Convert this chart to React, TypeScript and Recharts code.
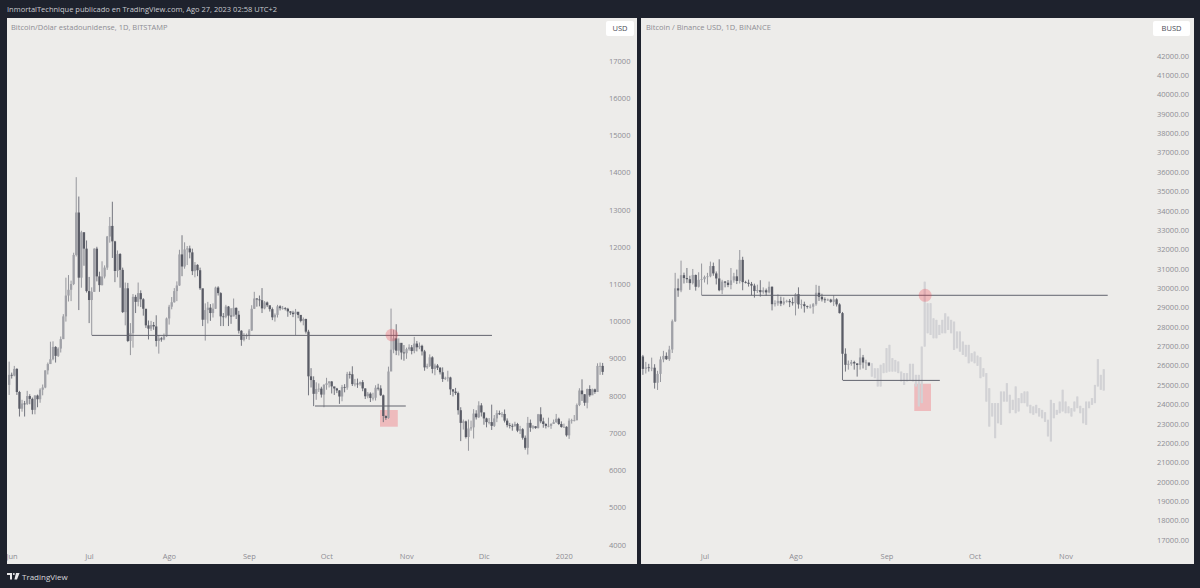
import { Bar, ComposedChart, ReferenceArea, ReferenceDot, ReferenceLine, XAxis, YAxis } from 'recharts'

const BG = '#1e222d'
const PANEL = '#edecea'
const TEXT = '#8d8d94'
const UP = '#a0a1a7'
const UP_WICK = '#96979d'
const DOWN = '#5a5c66'
const GHOST = '#d2d2d5'
const LINE = '#62646e'
const MARK = 'rgba(242, 54, 69, 0.27)'
const FONT = '"Open Sans", sans-serif'

// left chart, daily from May 31 2019 (index -1), Jun 1 is index 0
const btcFirstOpen = 8300
const btcClose = [
  8570,
  8550, 8730, 8110, 7660, 7800, 7790, 8000, 7925, 7630, 8015, 7915, 8170, 8230, 8690, 8860, 8990, 9320, 9080, 9275, 9530, 10140, 10700, 10855, 11010, 11790, 12930, 11180, 12400, 11960, 10820,
  10580, 10800, 11960, 11215, 10980, 11210, 11450, 12285, 12570, 12155, 11360, 11815, 11390, 10255, 10895, 9480, 9690, 10665, 10530, 10765, 10600, 10345, 9900, 9810, 9910, 9870, 9480, 9550, 9520, 9605, 10085,
  10400, 10520, 10820, 10970, 11805, 11480, 11940, 11965, 11860, 11355, 11525, 11380, 10895, 10050, 10310, 10375, 10230, 10345, 10915, 10765, 10140, 10130, 10405, 10160, 10140, 10370, 10185, 9755, 9510, 9600, 9630,
  9760, 10345, 10620, 10595, 10575, 10355, 10515, 10440, 10335, 10115, 10180, 10410, 10360, 10360, 10345, 10275, 10240, 10200, 10265, 10180, 10020, 10070, 9730, 8530, 8430, 8060, 8190, 8200, 8040, 8300,
  8343, 8393, 8260, 8205, 8151, 7988, 8245, 8228, 8595, 8586, 8321, 8336, 8321, 8374, 8205, 7994, 8065, 7950, 7955, 8223, 8205, 8020, 7465, 7412, 8660, 9245, 9550, 9220, 9430, 9170, 9150,
  9260, 9310, 9210, 9410, 9310, 9350, 9200, 8770, 8810, 9040, 8730, 8820, 8760, 8640, 8460, 8480, 8500, 8180, 8120, 8080, 7620, 7280, 7320, 6900, 7130, 7160, 7530, 7430, 7750, 7560,
  7400, 7300, 7300, 7200, 7400, 7540, 7510, 7520, 7340, 7220, 7200, 7190, 7250, 7070, 7110, 6880, 6610, 7280, 7150, 7190, 7140, 7510, 7320, 7250, 7200, 7200, 7250, 7300, 7390, 7250, 7170,
  7175, 6945, 7340, 7350, 7350, 7760, 8150, 8050, 7820, 8190, 8020, 8180, 8110, 8810, 8810, 8650,
]
const btcHigh = [
  8925,
  8630, 8810, 8750, 8140, 7900, 7870, 8140, 8050, 7960, 8020, 8040, 8210, 8310, 8690, 8900, 9460, 9470, 9340, 9310, 9600, 10200, 11180, 11250, 11100, 11850, 13880, 13360, 12440, 12400, 12180,
  11200, 10920, 11970, 12010, 11340, 11620, 11510, 12300, 12810, 13220, 12170, 11910, 11840, 11450, 11050, 11040, 9960, 10740, 10720, 11050, 10840, 10630, 10340, 10030, 10020, 9990, 10170, 9630, 9590, 9680, 10110,
  10450, 10660, 10900, 11080, 11930, 12320, 12130, 12030, 12040, 11960, 11600, 11540, 11450, 10870, 10490, 10530, 10470, 10490, 10940, 10950, 10790, 10230, 10450, 10420, 10360, 10620, 10380, 10290, 9770, 9690, 9680,
  9800, 10440, 10800, 10630, 10700, 10900, 10550, 10540, 10410, 10380, 10220, 10450, 10440, 10420, 10390, 10370, 10280, 10290, 10340, 10240, 10080, 10110, 10080, 9780, 8750, 8530, 8370, 8340, 8250, 8320,
  8490, 8400, 8400, 8230, 8220, 8160, 8300, 8320, 8650, 8660, 8800, 8460, 8470, 8390, 8430, 8210, 8110, 8100, 8090, 8290, 8330, 8290, 8040, 7480, 8790, 10350, 9780, 9930, 9550, 9370, 9370,
  9300, 9390, 9370, 9590, 9480, 9440, 9380, 9240, 8870, 9120, 9070, 8870, 8860, 8780, 8770, 8520, 8680, 8520, 8190, 8220, 8120, 7700, 7370, 7340, 7370, 7340, 7650, 7620, 7860, 7810,
  7560, 7420, 7410, 7770, 7490, 7620, 7610, 7570, 7640, 7400, 7280, 7260, 7310, 7280, 7200, 7140, 6940, 7440, 7370, 7220, 7190, 7520, 7700, 7420, 7270, 7420, 7270, 7370, 7520, 7420, 7320,
  7260, 7190, 7400, 7390, 7490, 7800, 8210, 8450, 8050, 8200, 8290, 8200, 8200, 8880, 8900, 8890,
]
const btcLow = [
  8030,
  8470, 8530, 8030, 7450, 7580, 7450, 7760, 7780, 7510, 7510, 7700, 7820, 8020, 8210, 8580, 8860, 8960, 8900, 9050, 9170, 9530, 10000, 10540, 10550, 10980, 11750, 10310, 10910, 11500, 10780,
  9960, 9630, 10800, 11080, 10800, 10970, 11160, 11390, 12120, 11710, 11060, 11190, 10910, 10230, 9900, 9450, 9100, 9300, 10230, 10410, 10390, 10160, 9830, 9520, 9750, 9780, 9330, 9140, 9460, 9500, 9590,
  9920, 10330, 10510, 10550, 10960, 11220, 11420, 11520, 11700, 11250, 11190, 11220, 10850, 9880, 9490, 9950, 10020, 10110, 10340, 10700, 9880, 9880, 10090, 9880, 9940, 10140, 10070, 9680, 9350, 9470, 9530,
  9510, 9750, 10340, 10400, 10410, 10230, 10330, 10390, 10270, 10040, 10000, 10110, 10300, 10320, 10300, 10130, 10180, 10120, 9640, 10090, 9980, 9900, 9680, 8020, 8230, 7730, 7900, 8110, 7960, 7700,
  8170, 8230, 8070, 8030, 8080, 7790, 7860, 8100, 8170, 8470, 8270, 8260, 8220, 8280, 8130, 7920, 7940, 7840, 7880, 7880, 8150, 8000, 7300, 7360, 7390, 8950, 9150, 9100, 9090, 8980, 8950,
  9000, 9220, 9120, 9150, 9200, 9260, 9090, 8680, 8730, 8780, 8610, 8560, 8700, 8580, 8380, 8430, 8390, 8030, 7990, 8030, 7500, 6790, 7100, 6860, 6530, 7070, 6860, 7370, 7410, 7450,
  7230, 7160, 7240, 7090, 7170, 7300, 7490, 7430, 7290, 7160, 7130, 7070, 7180, 7030, 6980, 6830, 6560, 6430, 7040, 7110, 7120, 7130, 7270, 7150, 7130, 7160, 7120, 7250, 7280, 7220, 7150,
  7150, 6910, 6850, 7260, 7320, 7350, 7730, 7870, 7740, 7670, 7980, 8040, 8060, 8110, 8570, 8570,
]
const btcTicks = [0, 30, 61, 92, 122, 153, 183, 214]
const btcTickLabels = ['Jun', 'Jul', 'Ago', 'Sep', 'Oct', 'Nov', 'Dic', '2020']
const btcPrices = [4000, 5000, 6000, 7000, 8000, 9000, 10000, 11000, 12000, 13000, 14000, 15000, 16000, 17000]

// right chart, daily from Jun 9 (index 0), solid candles end on Aug 26
const busdFirstOpen = 26500
const busdClose = [
  26480, 25840, 25920, 25900, 25900, 25120, 25580, 26330, 26510, 26340, 26840, 28300, 30000, 29890, 30680, 30530, 30470, 30270, 30690, 30080, 30440, 30470,
  30590, 30620, 31150, 30770, 30510, 29900, 30350, 30290, 30170, 30410, 30620, 30380, 31470, 30320, 30290, 30230, 30140, 29860, 29910, 29800, 29900, 29790, 30080, 29180, 29230, 29350, 29210, 29320, 29350, 29280, 29230,
  29700, 29170, 29180, 29080, 29040, 29050, 29180, 29770, 29560, 29430, 29400, 29420, 29300, 29430, 29170, 28720, 26620, 26050, 26100, 26190, 26120, 26040, 26430, 26170, 26170, 26010,
]
const busdHigh = [
  26780, 26560, 26200, 26100, 26420, 26080, 25740, 26480, 26770, 26690, 27030, 28390, 30800, 30500, 31430, 30810, 31050, 30650, 31000, 30710, 30830, 31280,
  30660, 30800, 31380, 31330, 30870, 31500, 30440, 30380, 30430, 31050, 30800, 30970, 31980, 31630, 30390, 30450, 30330, 30240, 30190, 30420, 30050, 29990, 30350, 30100, 29380, 29690, 29570, 29530, 29410, 29450, 29530,
  29750, 30050, 29420, 29310, 29110, 29170, 29240, 30180, 30130, 29720, 29530, 29470, 29460, 29640, 29490, 29230, 28780, 26900, 26270, 26300, 26260, 26130, 26900, 26560, 26310, 26110,
]
const busdLow = [
  26300, 25530, 25600, 25700, 25720, 24820, 24750, 25160, 26180, 26300, 26250, 26660, 28260, 29560, 29800, 30250, 30280, 29920, 30200, 29880, 30040, 29640,
  30300, 30200, 30570, 30650, 30200, 29850, 29700, 30050, 30060, 29950, 30290, 30220, 30250, 29900, 30250, 30090, 29650, 29520, 29760, 29570, 29720, 29620, 29740, 28860, 29060, 29100, 29080, 29130, 29260, 29030, 29110,
  28600, 28950, 28950, 28750, 28950, 28960, 28690, 29100, 29350, 29320, 29250, 29350, 29250, 29090, 29060, 28700, 25250, 25700, 25800, 26000, 25800, 25440, 25800, 25860, 25780, 25980,
]
// faded projection that follows the solid candles, only the ranges can be read
const ghostHigh = [
  26130, 25870, 25870, 26050, 26130, 26910, 27080, 26390, 26300, 26220, 25700, 25620, 25620, 26100, 26100, 25530, 25530, 26990, 30340,
  29230, 29230, 28450, 28370, 28110, 28370, 28710, 28540, 28370, 28280, 27770, 27770, 27250, 27080, 27080, 26650, 26730, 26520, 26440, 25870,
  25620, 24840, 24070, 24070, 24070, 24670, 24670, 25100, 24500, 24240, 24930, 24330, 24580, 24670, 24670, 23980, 23900, 23980, 23810, 23720,
  23600, 23210, 24240, 24070, 23720, 24150, 24760, 24150, 23900, 23810, 24150, 24410, 23930, 23810, 24150, 24150, 24330, 25010, 26340, 25530, 25820,
]
const ghostLow = [
  25440, 25360, 24930, 24930, 25620, 25650, 25700, 25700, 25700, 25620, 25190, 25010, 25190, 25270, 25190, 24930, 23900, 24070, 26990,
  27680, 27590, 27420, 27420, 27590, 27680, 27680, 27850, 27680, 26820, 26900, 26730, 26560, 26470, 26130, 26220, 26130, 26000, 25360, 25440,
  24150, 22860, 23380, 22260, 23030, 22950, 24150, 24150, 23550, 23720, 23550, 23640, 24070, 24070, 23900, 23550, 23470, 23550, 23380, 23290,
  23100, 22350, 22090, 23290, 23470, 23550, 23640, 23550, 23550, 23380, 23640, 23810, 23550, 23030, 22950, 23810, 23980, 24070, 24930, 24760, 24720,
]
const busdTicks = [22, 53, 84, 114, 145]
const busdTickLabels = ['Jul', 'Ago', 'Sep', 'Oct', 'Nov']
const busdPrices = [
  17000, 18000, 19000, 20000, 21000, 22000, 23000, 24000, 25000, 26000, 27000, 28000, 29000, 30000, 31000, 32000, 33000, 34000, 35000, 36000, 37000, 38000, 39000, 40000, 41000, 42000,
]

const btcData = btcClose.map((close, n) => ({
  day: n - 1,
  open: n === 0 ? btcFirstOpen : btcClose[n - 1],
  close,
  high: btcHigh[n],
  low: btcLow[n],
  range: [btcLow[n], btcHigh[n]],
  ghost: false,
}))

const busdData = [
  ...busdClose.map((close, n) => ({
    day: n,
    open: n === 0 ? busdFirstOpen : busdClose[n - 1],
    close,
    high: busdHigh[n],
    low: busdLow[n],
    range: [busdLow[n], busdHigh[n]],
    ghost: false,
  })),
  ...ghostHigh.map((high, n) => ({
    day: busdClose.length + n,
    open: high,
    close: ghostLow[n],
    high,
    low: ghostLow[n],
    range: [ghostLow[n], high],
    ghost: true,
  })),
]

function Candle(props: any) {
  const { x, y, width, height, payload } = props
  const { open, close, high, low, ghost } = payload
  const cx = x + width / 2
  const perUnit = height / (high - low)
  const top = y + (high - Math.max(open, close)) * perUnit
  const bottom = y + (high - Math.min(open, close)) * perUnit
  const rising = close >= open
  const color = ghost ? GHOST : rising ? UP : DOWN
  const wick = ghost ? GHOST : rising ? UP_WICK : '#74767f'
  const bodyWidth = ghost ? 2.2 : 2.3
  return (
    <g>
      <line x1={cx} x2={cx} y1={y} y2={y + height} stroke={wick} strokeWidth={1} />
      <rect x={cx - bodyWidth / 2} y={top} width={bodyWidth} height={Math.max(bottom - top, 0.8)} fill={color} />
    </g>
  )
}

const tickStyle = { fontSize: 7.5, fill: TEXT, fontFamily: FONT }

function Tag({ left, width, label }: { left: number; width: number; label: string }) {
  return (
    <div
      style={{
        position: 'absolute',
        left,
        top: 21,
        width,
        height: 15,
        background: '#fff',
        borderRadius: 2,
        color: '#4a4c55',
        fontSize: 7.5,
        lineHeight: '15px',
        textAlign: 'center',
        fontFamily: FONT,
      }}
    >
      {label}
    </div>
  )
}

function Title({ left, label }: { left: number; label: string }) {
  return (
    <div style={{ position: 'absolute', left, top: 22, color: TEXT, fontSize: 7.5, lineHeight: '10px', fontFamily: FONT, whiteSpace: 'nowrap' }}>
      {label}
    </div>
  )
}

export default function App() {
  return (
    <div style={{ position: 'absolute', left: 0, top: 0, width: 1200, height: 588, background: BG, overflow: 'hidden' }}>
      <div style={{ position: 'absolute', left: 7, top: 4, color: '#c9cad0', fontSize: 7.5, lineHeight: '11px', fontFamily: FONT, whiteSpace: 'nowrap' }}>
        InmortalTechnique publicado en TradingView.com, Ago 27, 2023 02:58 UTC+2
      </div>

      <div style={{ position: 'absolute', left: 7, top: 18, width: 630, height: 546, background: PANEL }}>
        <ComposedChart width={630} height={546} data={btcData} margin={{ top: 0, right: 0, bottom: 0, left: 0 }} style={{ overflow: 'visible' }}>
          <XAxis
            dataKey="day"
            type="number"
            domain={[-1.94, 229.8]}
            allowDataOverflow
            ticks={btcTicks}
            tickFormatter={(v: number) => btcTickLabels[btcTicks.indexOf(v)]}
            interval={0}
            axisLine={false}
            tickLine={false}
            tick={tickStyle}
            height={16}
            tickSize={0}
            tickMargin={6}
          />
          <YAxis
            orientation="right"
            type="number"
            domain={[3919, 18155]}
            allowDataOverflow
            ticks={btcPrices}
            interval={0}
            axisLine={false}
            tickLine={false}
            tick={{ ...tickStyle, textAnchor: 'start' }}
            width={32}
            tickSize={0}
            tickMargin={4}
          />
          <Bar dataKey="range" barSize={2} shape={<Candle />} isAnimationActive={false} />
          <ReferenceLine segment={[{ x: 31, y: 9630 }, { x: 186, y: 9630 }]} stroke={LINE} strokeWidth={1} />
          <ReferenceLine segment={[{ x: 117.4, y: 7733 }, { x: 152.6, y: 7733 }]} stroke={LINE} strokeWidth={1} />
          <ReferenceArea x1={142.6} x2={149.5} y1={7177} y2={7626} fill={MARK} fillOpacity={1} stroke="none" />
          <ReferenceDot x={147.2} y={9640} r={6.3} fill={MARK} fillOpacity={1} stroke="none" />
        </ComposedChart>
      </div>

      <div style={{ position: 'absolute', left: 641, top: 18, width: 553, height: 546, background: PANEL }}>
        <ComposedChart width={553} height={546} data={busdData} margin={{ top: 0, right: 0, bottom: 0, left: 0 }}>
          <XAxis
            dataKey="day"
            type="number"
            domain={[0.2, 173.6]}
            allowDataOverflow
            ticks={busdTicks}
            tickFormatter={(v: number) => busdTickLabels[busdTicks.indexOf(v)]}
            interval={0}
            axisLine={false}
            tickLine={false}
            tick={tickStyle}
            height={16}
            tickSize={0}
            tickMargin={6}
          />
          <YAxis
            orientation="right"
            type="number"
            domain={[16587, 43963]}
            allowDataOverflow
            ticks={busdPrices}
            interval={0}
            tickFormatter={(v: number) => v.toFixed(2)}
            axisLine={false}
            tickLine={false}
            tick={{ ...tickStyle, textAnchor: 'start' }}
            width={44}
            tickSize={0}
            tickMargin={7}
          />
          <Bar dataKey="range" barSize={2} shape={<Candle />} isAnimationActive={false} />
          <ReferenceLine segment={[{ x: 20.9, y: 29640 }, { x: 159.2, y: 29640 }]} stroke={LINE} strokeWidth={1} />
          <ReferenceLine segment={[{ x: 69, y: 25244 }, { x: 102, y: 25244 }]} stroke={LINE} strokeWidth={1} />
          <ReferenceArea x1={93.3} x2={99} y1={23663} y2={25073} fill={MARK} fillOpacity={1} stroke="none" />
          <ReferenceDot x={97} y={29640} r={6.5} fill={MARK} fillOpacity={1} stroke="none" />
        </ComposedChart>
      </div>

      <Title left={11} label="Bitcoin/Dólar estadounidense, 1D, BITSTAMP" />
      <Title left={646} label="Bitcoin / Binance USD, 1D, BINANCE" />
      <Tag left={606} width={28} label="USD" />
      <Tag left={1153} width={37} label="BUSD" />

      <svg style={{ position: 'absolute', left: 7, top: 573 }} width={13} height={7} viewBox="0 0 13 7">
        <path d="M0 0h5v6.5H3V2H0z M9 0h3.6L10 6.5H7.4z" fill="#e8e8ea" />
        <circle cx="6.8" cy="1" r="1" fill="#e8e8ea" />
      </svg>
      <div style={{ position: 'absolute', left: 22, top: 570, color: '#d6d7dc', fontSize: 8, lineHeight: '13px', fontFamily: FONT }}>
        TradingView
      </div>
    </div>
  )
}
